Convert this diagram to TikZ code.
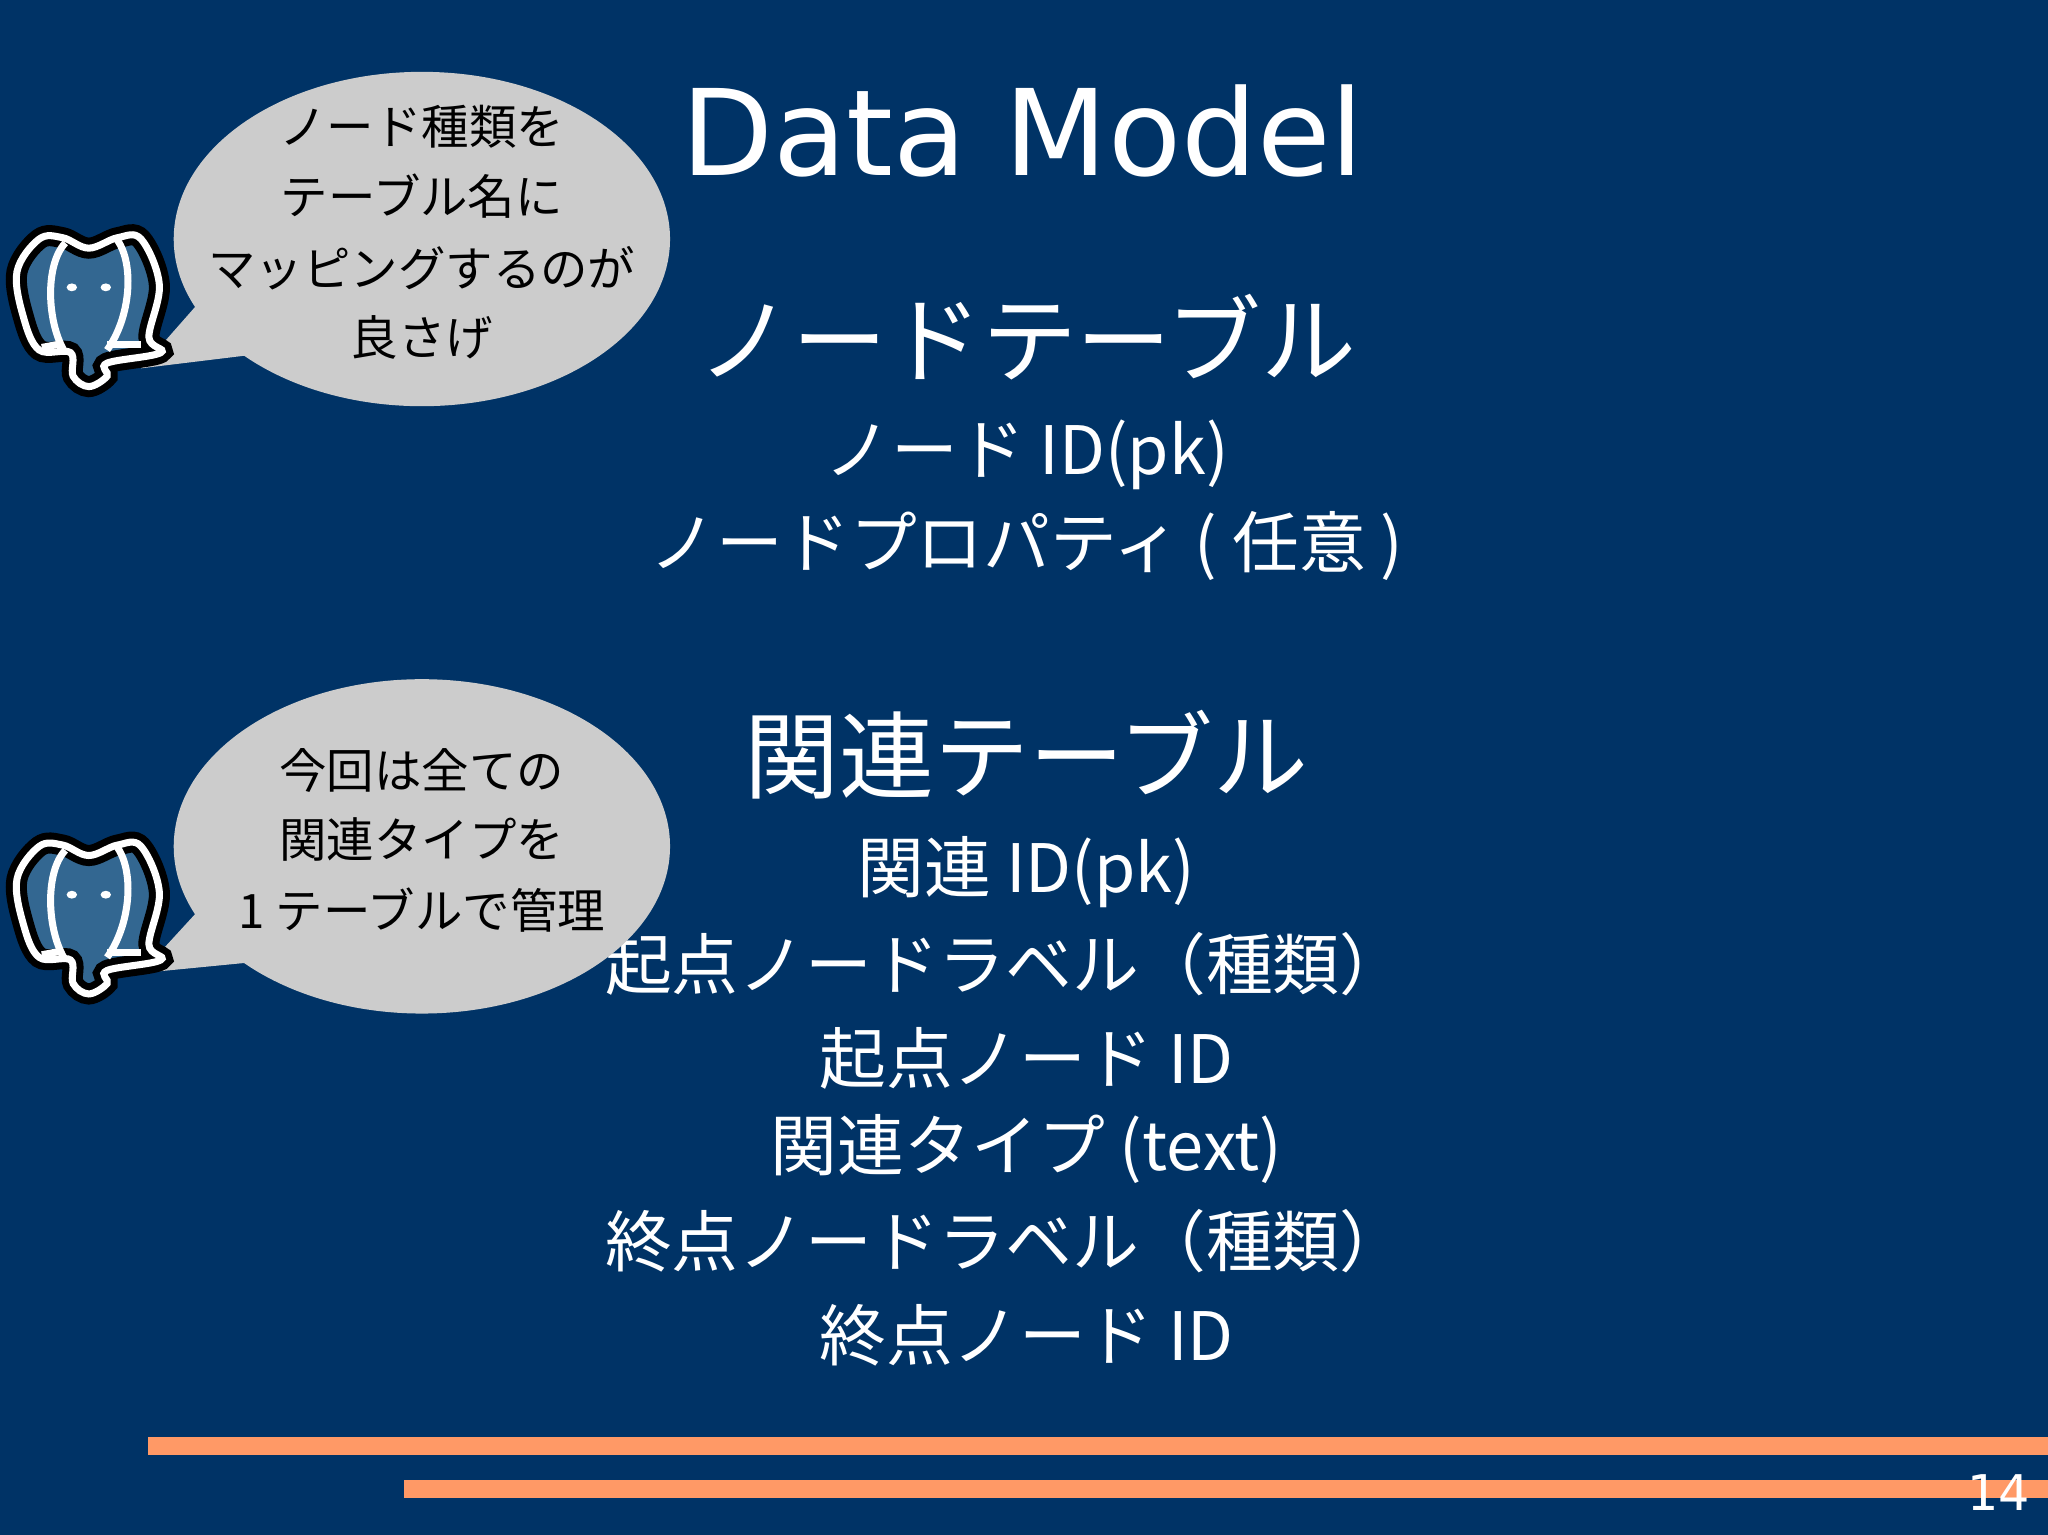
\documentclass[tikz,border=0pt]{standalone}
\usepackage{fontspec}
\setmainfont{DejaVu Sans}
\newfontfamily\jp{Noto Sans CJK JP}
\definecolor{bg}{RGB}{0,51,102}
\definecolor{bar}{RGB}{255,153,102}
\definecolor{bub}{RGB}{204,204,204}
\definecolor{pg}{RGB}{51,103,145}
\tikzset{
 title/.style={text=white,font=\fontsize{34}{40}\selectfont},
 head/.style={text=white,font=\jp\fontsize{27}{32}\selectfont},
 body/.style={text=white,font=\jp\fontsize{19}{24}\selectfont},
 btxt/.style={text=black,font=\jp\fontsize{13.5}{16}\selectfont},
 bubble/.style={fill=bub,draw=none},
}
\newcommand{\elephant}[2]{%
 \begin{scope}[shift={(#1,#2)}]
  \def\outline{plot[smooth cycle,tension=0.6] coordinates {(-38,-55) (-55,-30) (-50,5) (-38,30) (-14,32) (-12,50) (0,58) (14,50) (14,40) (55,32) (46,20) (54,-20) (40,-55) (22,-56) (0,-48) (-20,-56)}}
  \draw[line width=6pt,black,fill=pg] \outline;
  \draw[line width=2pt,white] \outline;
  \draw[line width=2pt,white] (-18,-52) .. controls (-34,-35) and (-32,10) .. (-18,32);
  \draw[line width=2pt,white] (22,-54) .. controls (35,-35) and (32,5) .. (14,30);
  \draw[line width=2pt,white] (-36,28) -- (-20,25);
  \draw[line width=2pt,white] (14,26) -- (40,26);
  \fill[white] (-13,-18) ellipse (4 and 3); \fill[white] (13,-18) ellipse (4 and 3);
 \end{scope}}
\begin{document}
\begin{tikzpicture}[x=0.01306cm,y=-0.01306cm]
\useasboundingbox (0,0) rectangle (1568,1175);
\fill[bg] (0,0) rectangle (1568,1175);
\fill[bar] (113,1100) rectangle (1568,1114);
\fill[bar] (309,1133) rectangle (1568,1147);
\node[text=white,font=\fontsize{14}{16}\selectfont] (pg) at (1530,1143) {14};
\node[title] (t) at (783,100) {Data Model};
\node[head] (h1) at (786,258) {ノードテーブル};
\node[body] (a1) at (786,348) {ノード ID(pk)};
\node[body] (a2) at (786,418) {ノードプロパティ ( 任意 )};
\node[head] (h2) at (786,578) {関連テーブル};
\node[body] (b1) at (786,668) {関連 ID(pk)};
\node[body] (b2) at (770,738) {起点ノードラベル（種類）};
\node[body] (b3) at (786,810) {起点ノード ID};
\node[body] (b4) at (786,880) {関連タイプ (text)};
\node[body] (b5) at (770,950) {終点ノードラベル（種類）};
\node[body] (b6) at (786,1022) {終点ノード ID};
% bubble 1
\fill[bubble] (323,183) ellipse (190 and 128);
\fill[bubble] (152,232) -- (108,282) -- (190,272) -- cycle;
\node[btxt] (c1) at (323,97) {ノード種類を};
\node[btxt] (c2) at (323,150) {テーブル名に};
\node[btxt] (c3) at (323,205) {マッピングするのが};
\node[btxt] (c4) at (323,258) {良さげ};
% bubble 2
\fill[bubble] (323,648) ellipse (190 and 128);
\fill[bubble] (152,697) -- (108,745) -- (190,737) -- cycle;
\node[btxt] (d1) at (323,590) {今回は全ての};
\node[btxt] (d2) at (323,643) {関連タイプを};
\node[btxt] (d3) at (323,697) {1 テーブルで管理};
\elephant{68}{238}
\elephant{68}{703}
\end{tikzpicture}
\end{document}
